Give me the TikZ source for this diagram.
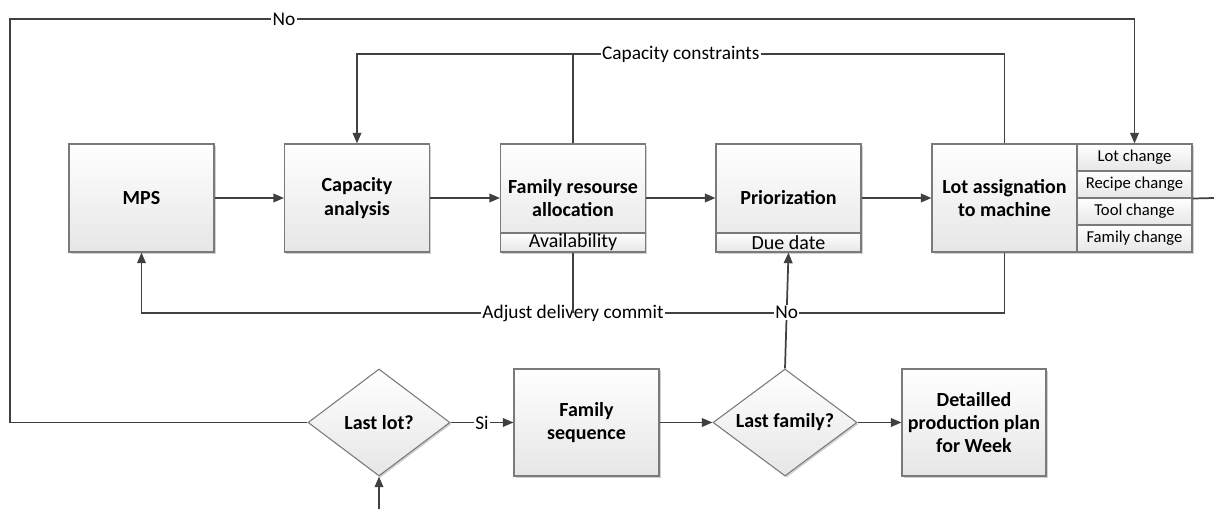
\documentclass[tikz,border=0pt]{standalone}
\usepackage{fontspec}
\setmainfont{Carlito}
\usetikzlibrary{arrows.meta,shapes.geometric,shadows}
\definecolor{linegray}{HTML}{404040}
\definecolor{boxgray}{HTML}{7A7A7A}
\definecolor{boxbot}{HTML}{E6E6E6}
\begin{document}
\begin{tikzpicture}[x=0.75pt,y=-0.75pt,
  conn/.style={draw=linegray, line width=1.3pt},
  arr/.style={conn, -{Triangle[length=8pt,width=6.5pt]}},
  shade/.style={top color=white, bottom color=boxbot},
  shad/.style={drop shadow={shadow xshift=1.2pt,shadow yshift=-1.2pt,fill=black,opacity=0.18}},
  box/.style={draw=boxgray, line width=0.8pt, shade, shad, minimum width=108.75pt, minimum height=81pt,
    inner sep=0pt, align=center, font=\bfseries\fontsize{15}{17.5}\selectfont},
  strip/.style={draw=boxgray, line width=0.8pt, shade, minimum width=108.75pt, minimum height=14.25pt,
    inner sep=0pt, font=\fontsize{15}{17}\selectfont},
  prow/.style={draw=boxgray, line width=0.8pt, shade, shad, minimum width=86.25pt, minimum height=20.25pt,
    inner sep=0pt, font=\fontsize{12.5}{14}\selectfont},
  dec/.style={draw=boxgray, line width=0.8pt, shade, shad, shape=diamond, aspect=1.4, inner sep=0pt,
    minimum width=106.5pt, minimum height=80.25pt, align=center, font=\bfseries\fontsize{15}{17.5}\selectfont},
  lbl/.style={fill=white, inner sep=1pt, font=\fontsize{14.5}{17}\selectfont}
]
\useasboundingbox (0,0) rectangle (1214,509);

% main row
\node[box] (mps) at (141.5,198) {MPS};
\node[box] (cap) at (357,198) {Capacity\\analysis};
\node[box] (fam) at (573,198) {Family resourse\\allocation};
\node[strip] (avail) at (573,242.5) {Availability};
\node[box] (pri) at (788.5,198) {Priorization};
\node[strip] (due) at (788.5,242.5) {Due date};
\node[box] (lot) at (1004.5,198) {Lot assignation\\to machine};
\node[prow] (lc) at (1134.5,157.5) {Lot change};
\node[prow] (rc) at (1134.5,184.5) {Recipe change};
\node[prow] (tc) at (1134.5,211.5) {Tool change};
\node[prow] (fc) at (1134.5,238.5) {Family change};

% bottom row
\node[dec] (lastlot) at (379,422.5) {Last lot?};
\node[box, minimum height=80.25pt] (famseq) at (586.5,422.5) {Family\\sequence};
\node[dec, minimum width=108pt] (lastfam) at (785,422.5) {Last family?};
\node[box, minimum width=108pt, minimum height=80.25pt] (plan) at (974,422.5) {Detailled\\production plan\\for Week};

% helper coordinates
\coordinate (nl) at (10,19);
\coordinate (ccy) at (0,54);
\coordinate (ady) at (0,313);
\coordinate (bin) at (379,509);
\coordinate (rout) at (1214,198);

% main flow
\draw[arr] (mps) -- (cap);
\draw[arr] (cap) -- (fam);
\draw[arr] (fam) -- (pri);
\draw[arr] (pri) -- (lot);
\draw[conn] (rc.south east) -- (rout);

% capacity constraints loop
\draw[arr] (lot.north) -- (lot.north |- ccy)
  -- node[lbl, pos=0.5] {Capacity constraints} (cap.north |- ccy) -- (cap.north);
\draw[conn] (fam.north) -- (fam.north |- ccy);

% adjust delivery commit loop
\draw[arr] (lot.south) -- (lot.south |- ady)
  -- node[lbl, pos=0.5] {Adjust delivery commit} (mps.south |- ady) -- (mps.south);
\draw[conn] (fam.south) -- (fam.south |- ady);

% bottom flow
\draw[arr] (bin) -- (lastlot.south);
\draw[arr] (lastlot.east) -- node[lbl] {Si} (famseq.west);
\draw[arr] (famseq) -- (lastfam);
\draw[arr] (lastfam) -- (plan);
\draw[arr] (lastfam.north) -- node[lbl, pos=0.48] {No} (due.south);

% No loop to lot change
\draw[arr] (lastlot.west) -| (nl)
  -- node[lbl, pos=0.2437] {No} (nl -| lc.north) -- (lc.north);
\end{tikzpicture}
\end{document}
